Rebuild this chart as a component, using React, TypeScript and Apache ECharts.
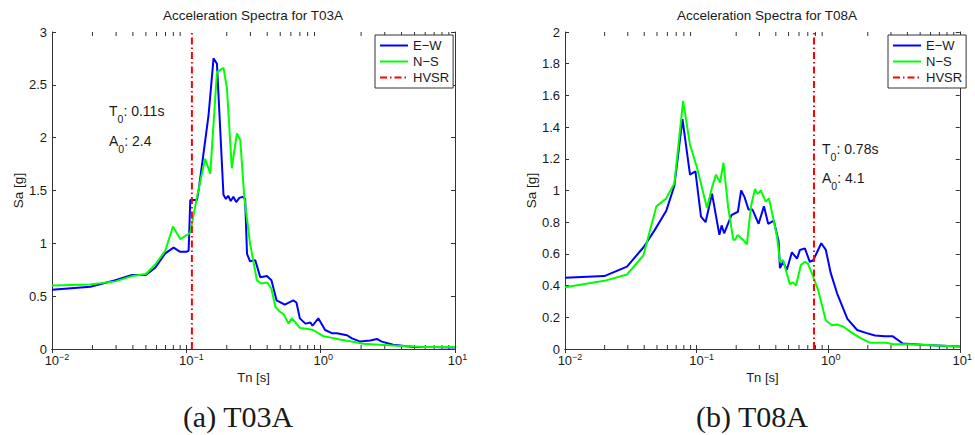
import React, { useEffect, useRef } from "react";
import * as echarts from "echarts";

// ---------- data (period Tn [s], spectral acceleration Sa [g]) ----------
const t03aEW: [number, number][] = [
  [0.01, 0.56], [0.0193, 0.59], [0.0296, 0.65], [0.0394, 0.7], [0.05, 0.7], [0.0587, 0.77],
  [0.0697, 0.905], [0.0804, 0.96], [0.0901, 0.92], [0.1, 0.92], [0.104, 0.93], [0.107, 1.41],
  [0.12, 1.41], [0.124, 1.52], [0.1463, 2.21], [0.1594, 2.75], [0.169, 2.7], [0.189, 1.46],
  [0.197, 1.42], [0.205, 1.45], [0.214, 1.4], [0.224, 1.44], [0.235, 1.39], [0.248, 1.43],
  [0.262, 1.44], [0.274, 1.42], [0.283, 0.9], [0.298, 0.83], [0.326, 0.84], [0.355, 0.68],
  [0.398, 0.69], [0.43, 0.65], [0.47, 0.46], [0.54, 0.42], [0.626, 0.46], [0.66, 0.44],
  [0.7, 0.29], [0.77, 0.24], [0.84, 0.25], [0.87, 0.22], [0.96, 0.29], [1.08, 0.18],
  [1.21, 0.15], [1.32, 0.15], [1.57, 0.13], [1.71, 0.1], [1.97, 0.07], [2.34, 0.08],
  [2.62, 0.095], [2.85, 0.07], [3.47, 0.04], [4.9, 0.02], [6.5, 0.02], [10, 0.015],
];
const t03aNS: [number, number][] = [
  [0.01, 0.6], [0.0193, 0.61], [0.0296, 0.64], [0.0394, 0.69], [0.05, 0.71], [0.0587, 0.8],
  [0.0697, 0.93], [0.0795, 1.16], [0.0901, 1.04], [0.107, 1.1], [0.12, 1.44], [0.138, 1.8],
  [0.1507, 1.66], [0.169, 2.62], [0.189, 2.66], [0.2005, 2.47], [0.218, 1.71], [0.238, 2.04],
  [0.252, 1.98], [0.27, 1.44], [0.298, 1.0], [0.335, 0.65], [0.36, 0.62], [0.4, 0.63],
  [0.43, 0.57], [0.46, 0.4], [0.5, 0.35], [0.53, 0.33], [0.576, 0.24], [0.61, 0.29],
  [0.65, 0.25], [0.7, 0.2], [0.8, 0.19], [0.88, 0.18], [1.05, 0.12], [1.17, 0.11],
  [1.39, 0.09], [1.7, 0.07], [2.07, 0.05], [3.7, 0.03], [6.0, 0.02], [10, 0.02],
];
const t03aHVSR: [number, number][] = [[0.11, 0], [0.11, 3]];

const t08aEW: [number, number][] = [
  [0.01, 0.45], [0.0199, 0.46], [0.0296, 0.52], [0.0398, 0.645], [0.048, 0.75], [0.0587, 0.87],
  [0.0678, 1.03], [0.0781, 1.45], [0.0891, 1.1], [0.098, 1.12], [0.108, 0.835], [0.117, 0.8],
  [0.131, 0.98], [0.149, 0.72], [0.155, 0.78], [0.162, 0.73], [0.184, 0.845], [0.206, 0.866],
  [0.218, 1.0], [0.231, 0.96], [0.248, 0.88], [0.266, 0.88], [0.296, 0.79], [0.325, 0.9],
  [0.35, 0.79], [0.386, 0.81], [0.42, 0.68], [0.43, 0.51], [0.455, 0.55], [0.485, 0.5],
  [0.53, 0.61], [0.58, 0.57], [0.61, 0.625], [0.665, 0.635], [0.725, 0.55], [0.77, 0.56],
  [0.886, 0.667], [0.96, 0.625], [1.045, 0.48], [1.17, 0.35], [1.4, 0.19], [1.66, 0.12],
  [1.96, 0.1], [2.27, 0.085], [2.69, 0.08], [3.1, 0.08], [3.69, 0.035], [5.5, 0.025], [10, 0.015],
];
const t08aNS: [number, number][] = [
  [0.01, 0.39], [0.0199, 0.43], [0.0296, 0.47], [0.0394, 0.59], [0.0495, 0.9], [0.0587, 0.95],
  [0.0678, 1.045], [0.079, 1.565], [0.0891, 1.29], [0.101, 1.14], [0.12, 0.89], [0.131, 1.02],
  [0.1406, 1.1], [0.1507, 1.05], [0.16, 1.175], [0.174, 0.89], [0.19, 0.69], [0.197, 0.69],
  [0.205, 0.72], [0.225, 0.69], [0.241, 0.66], [0.259, 0.9], [0.278, 1.01], [0.291, 0.98],
  [0.308, 1.0], [0.335, 0.93], [0.355, 0.95], [0.386, 0.81], [0.41, 0.7], [0.43, 0.55],
  [0.455, 0.56], [0.51, 0.41], [0.54, 0.42], [0.57, 0.4], [0.62, 0.53], [0.665, 0.55],
  [0.7, 0.54], [0.77, 0.456], [0.84, 0.37], [0.96, 0.18], [1.07, 0.15], [1.17, 0.155],
  [1.31, 0.14], [1.47, 0.11], [1.75, 0.07], [2.07, 0.04], [2.77, 0.04], [3.1, 0.03],
  [4.1, 0.03], [10, 0.015],
];
const t08aHVSR: [number, number][] = [[0.78, 0], [0.78, 2]];

const seriesNames = ["E\u2212W", "N\u2212S", "HVSR"];
const seriesColors = ["#0000ff", "#00ff00", "#ff0000"];
const titles = ["Acceleration Spectra for T03A", "Acceleration Spectra for T08A"];
const captions = ["(a) T03A", "(b) T08A"];
const notesT = ["0.11s", "0.78s"];
const notesA = ["2.4", "4.1"];
const yMax = [3, 2];
const yStep = [0.5, 0.2];
const minorTicks = [
  0.02, 0.03, 0.04, 0.05, 0.06, 0.07, 0.08, 0.09,
  0.2, 0.3, 0.4, 0.5, 0.6, 0.7, 0.8, 0.9,
  2, 3, 4, 5, 6, 7, 8, 9,
];

// ---------- styling ----------
const AXIS = "#333333";
const TEXT = "#1a1a1a";
const FONT = '"Liberation Sans", Arial, Helvetica, sans-serif';
const SERIF = '"Liberation Serif", "Times New Roman", Times, serif';
const GRID_LEFT = [52, 565];
const GRID_TOP = 32;
const GRID_W = 403;
const GRID_H = 317;

function expLabel(v: number) {
  const e = Math.round(Math.log10(v));
  const s = e < 0 ? "\u2212" + Math.abs(e) : String(e);
  return `{p${s.length}|}{b|10}{s|${s}}`;
}

const labelRich = {
  b: { fontSize: 13, lineHeight: 16, color: TEXT, fontFamily: FONT },
  s: { fontSize: 9, lineHeight: 10, verticalAlign: "top", color: TEXT, fontFamily: FONT },
  p1: { width: 5 },
  p2: { width: 10 },
};

function makeXAxes(g: number) {
  const base = {
    type: "log",
    logBase: 10,
    min: 0.01,
    max: 10,
    gridIndex: g,
    splitLine: { show: false },
    axisLine: { show: true, lineStyle: { color: AXIS, width: 1 } },
    axisTick: { show: true, inside: true, length: 4, lineStyle: { color: AXIS } },
  };
  return [
    {
      ...base,
      position: "bottom",
      name: "Tn [s]",
      nameLocation: "middle",
      nameGap: 22,
      nameTextStyle: { fontSize: 13, color: TEXT, fontFamily: FONT },
      axisLabel: { margin: 3, formatter: expLabel, rich: labelRich },
    },
    { ...base, position: "top", axisLabel: { show: false } },
  ];
}

function makeYAxes(g: number) {
  const base = {
    type: "value",
    min: 0,
    max: yMax[g],
    interval: yStep[g],
    gridIndex: g,
    splitLine: { show: false },
    axisLine: { show: true, lineStyle: { color: AXIS, width: 1 } },
    axisTick: { show: true, inside: true, length: 4, lineStyle: { color: AXIS } },
  };
  return [
    {
      ...base,
      position: "left",
      name: "Sa [g]",
      nameLocation: "middle",
      nameRotate: 90,
      nameGap: g === 0 ? 27 : 26,
      nameTextStyle: { fontSize: 13.5, color: TEXT, fontFamily: FONT },
      axisLabel: { fontSize: 13, color: TEXT, fontFamily: FONT, margin: 5 },
    },
    { ...base, position: "right", axisLabel: { show: false } },
  ];
}

function minorTickSeries(g: number) {
  const top = yMax[g];
  return {
    type: "custom",
    xAxisIndex: g * 2,
    yAxisIndex: g * 2,
    silent: true,
    clip: false,
    z: 1,
    data: minorTicks.map((v) => [v, 0]),
    renderItem: (_p: any, api: any) => {
      const b = api.coord([api.value(0), 0]);
      const t = api.coord([api.value(0), top]);
      return {
        type: "group",
        children: [
          { type: "line", shape: { x1: b[0], y1: b[1], x2: b[0], y2: b[1] - 4 }, style: { stroke: AXIS, lineWidth: 1 } },
          { type: "line", shape: { x1: t[0], y1: t[1], x2: t[0], y2: t[1] + 4 }, style: { stroke: AXIS, lineWidth: 1 } },
        ],
      };
    },
  };
}

function lineSeries(g: number, i: number, data: [number, number][]) {
  return {
    type: "line",
    name: seriesNames[i],
    xAxisIndex: g * 2,
    yAxisIndex: g * 2,
    data,
    symbol: "none",
    showSymbol: false,
    smooth: false,
    z: 3 + i,
    itemStyle: { color: seriesColors[i] },
    lineStyle: {
      width: 2,
      color: seriesColors[i],
      type: i === 2 ? [7, 3, 1.5, 3] : "solid",
    },
  };
}

const noteRich = {
  a: { fontSize: 14, lineHeight: 27, fill: TEXT, fontFamily: FONT },
  s: { fontSize: 10.5, verticalAlign: "bottom", fill: TEXT, fontFamily: FONT },
};

export default function App() {
  const ref = useRef<HTMLDivElement>(null);
  useEffect(() => {
    if (!ref.current) return;
    const chart = echarts.init(ref.current, null, { renderer: "svg" });
    const noteX = [109, 822];
    const noteTY = [111, 149];
    const noteAY = [141, 178];
    const titleX = [253, 767];
    const captionX = [238, 752];
    const graphic: any[] = [];
    [0, 1].forEach((g) => {
      graphic.push({
        type: "text",
        x: titleX[g],
        y: 15.5,
        style: { text: titles[g], fontSize: 13.5, fontFamily: FONT, fill: TEXT, align: "center", verticalAlign: "middle" },
      });
      graphic.push({
        type: "text",
        x: captionX[g],
        y: 416.5,
        style: { text: captions[g], fontSize: 30, fontFamily: SERIF, fill: TEXT, align: "center", verticalAlign: "middle" },
      });
      graphic.push({
        type: "text",
        x: noteX[g],
        y: noteTY[g] - 13.5,
        z: 10,
        style: { text: `{a|T}{s|0}{a|: ${notesT[g]}}`, rich: noteRich, align: "left", verticalAlign: "top" },
      });
      graphic.push({
        type: "text",
        x: noteX[g],
        y: noteAY[g] - 13.5,
        z: 10,
        style: { text: `{a|A}{s|0}{a|: ${notesA[g]}}`, rich: noteRich, align: "left", verticalAlign: "top" },
      });
    });

    const option: any = {
      animation: false,
      backgroundColor: "#ffffff",
      textStyle: { fontFamily: FONT, color: TEXT },
      grid: [0, 1].map((g) => ({ left: GRID_LEFT[g], top: GRID_TOP, width: GRID_W, height: GRID_H, containLabel: false })),
      xAxis: [...makeXAxes(0), ...makeXAxes(1)],
      yAxis: [...makeYAxes(0), ...makeYAxes(1)],
      legend: [0, 1].map((g) => ({
        data: seriesNames,
        left: g === 0 ? 375 : 888,
        top: 35,
        orient: "vertical",
        itemWidth: 28,
        itemHeight: 13,
        itemGap: 3,
        padding: 4,
        borderColor: AXIS,
        borderWidth: 1,
        backgroundColor: "#ffffff",
        selectedMode: false,
        itemStyle: { opacity: 0 },
        textStyle: { fontSize: 13, color: TEXT, fontFamily: FONT },
      })),
      series: [
        minorTickSeries(0),
        minorTickSeries(1),
        lineSeries(0, 0, t03aEW),
        lineSeries(0, 1, t03aNS),
        lineSeries(0, 2, t03aHVSR),
        lineSeries(1, 0, t08aEW),
        lineSeries(1, 1, t08aNS),
        lineSeries(1, 2, t08aHVSR),
      ],
      graphic,
    };
    chart.setOption(option);
    return () => chart.dispose();
  }, []);
  return (
    <div
      ref={ref}
      style={{ position: "absolute", left: 0, top: 0, width: 975, height: 435, background: "#fff" }}
    />
  );
}
